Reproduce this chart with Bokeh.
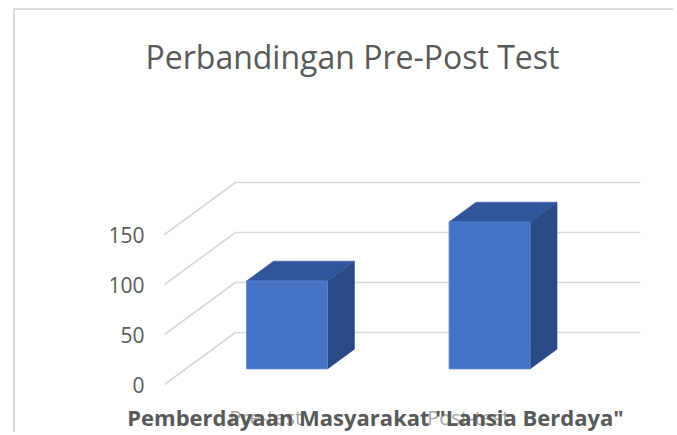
from bokeh.plotting import figure
from bokeh.models import Range1d, FixedTicker, Title
from bokeh.embed import file_html
from bokeh.resources import INLINE

# ---- data ----
title_text = "Perbandingan Pre-Post Test"
axis_title = 'Pemberdayaan Masyarakat "Lansia Berdaya"'
categories = ["Pre-test", "Post-test"]
values = [88, 147]
y_ticks = [0, 50, 100, 150]

# ---- 3D projection style parameters ----
DX = 0.35      # horizontal shift (category units) for full depth
DY = 52        # vertical shift (value units) for full depth
BW = 0.4       # bar width (category units)
F0, F1 = 0.30, 0.68   # bar front / back depth fractions
N = len(categories)
X_LEFT_PAD = 0.2666   # room left of the side wall (category units)

FRONT = "#4472C4"
TOP = "#31559A"
SIDE = "#2A4A85"
GRID = "#D9D9D9"
TXT = "#595959"

p = figure(width=660, height=424,
           x_range=Range1d(-X_LEFT_PAD, N + DX), y_range=Range1d(-16, 284),
           output_backend="svg", toolbar_location=None,
           min_border_left=95, min_border_right=35,
           min_border_top=90, min_border_bottom=34)
p.styles = {"margin-left": "13px", "margin-top": "8px",
            "border-top": "2px solid #D9D9D9", "border-left": "2px solid #D9D9D9"}
p.outline_line_color = None
p.background_fill_color = "white"
p.border_fill_color = "white"
p.xgrid.visible = False
p.ygrid.visible = False

# chart title
p.title = Title(text=title_text, align="left", offset=35, standoff=45,
                text_font="Open Sans", text_font_style="normal",
                text_font_size="32px", text_color=TXT)

# gridlines: side-wall diagonals + back-wall horizontals
gx = [[0, DX, N + DX] for t in y_ticks]
gy = [[t, t + DY, t + DY] for t in y_ticks]
p.multi_line(gx, gy, line_color=GRID, line_width=1.6)

# bars
sx, sy, tx, ty = [], [], [], []
fl, fr, fb, ft = [], [], [], []
for i, v in enumerate(values):
    c = i + 0.5
    l = c - BW / 2
    r = c + BW / 2
    fl.append(l + F0 * DX); fr.append(r + F0 * DX)
    fb.append(F0 * DY); ft.append(v + F0 * DY)
    sx.append([r + F0 * DX, r + F0 * DX, r + F1 * DX, r + F1 * DX])
    sy.append([F0 * DY, v + F0 * DY, v + F1 * DY, F1 * DY])
    tx.append([l + F0 * DX, r + F0 * DX, r + F1 * DX, l + F1 * DX])
    ty.append([v + F0 * DY, v + F0 * DY, v + F1 * DY, v + F1 * DY])

p.patches(sx, sy, fill_color=SIDE, line_color=SIDE, line_width=0.5)
p.patches(tx, ty, fill_color=TOP, line_color=TOP, line_width=0.5)
p.quad(left=fl, right=fr, bottom=fb, top=ft, fill_color=FRONT, line_color="#5B85CF", line_width=0.8)

# value axis, drawn at the front edge of the side wall
ya = p.yaxis[0]
ya.fixed_location = 0
ya.ticker = FixedTicker(ticks=y_ticks)
ya.axis_line_color = None
ya.major_tick_line_color = None
ya.minor_tick_line_color = None
ya.major_tick_out = 0
ya.major_label_standoff = 20
ya.major_label_text_font = "Open Sans"
ya.major_label_text_font_size = "21px"
ya.major_label_text_color = TXT

# category axis
xa = p.xaxis[0]
xa.ticker = FixedTicker(ticks=[i + 0.5 for i in range(N)])
xa.major_label_overrides = {i + 0.5: c for i, c in enumerate(categories)}
xa.axis_line_color = None
xa.major_tick_line_color = None
xa.minor_tick_line_color = None
xa.major_tick_out = 0
xa.major_label_standoff = 3
xa.major_label_text_font = "Open Sans"
xa.major_label_text_font_size = "20px"
xa.major_label_text_color = "#A6A6A6"
# axis title (overlapping the category labels, as in the original)
xa.axis_label = axis_title
xa.axis_label_standoff = -32
xa.axis_label_text_font = "Open Sans"
xa.axis_label_text_font_style = "bold"
xa.axis_label_text_font_size = "22px"
xa.axis_label_text_color = TXT

open("out.html", "w").write(file_html(p, INLINE))
